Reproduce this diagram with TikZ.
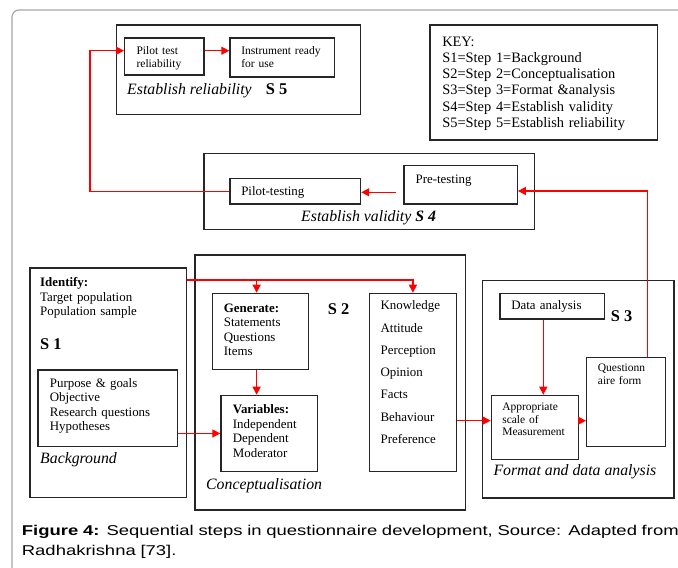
\documentclass[tikz,border=0pt]{standalone}
\usepackage{fontspec}
\setmainfont{Liberation Serif}
\newfontfamily\capfont[FakeStretch=1.3]{Liberation Sans}
\usetikzlibrary{arrows.meta,positioning}

\begin{document}
\begin{tikzpicture}[x=1pt, y=-1pt,
    stepbox/.style={rectangle, draw=black!85, line width=1.2pt, anchor=north west, inner sep=0pt},
    cell/.style={rectangle, draw=black!85, line width=1.2pt, anchor=north west, inner ysep=0pt, align=left},
    note/.style={anchor=base west, inner sep=0pt, align=left},
    smallfont/.style={font=\fontsize{11.5}{12.6}\selectfont},
    midfont/.style={font=\fontsize{12.9}{14.5}\selectfont},
    keyfont/.style={font=\fontsize{14.4}{16.2}\selectfont},
    stepname/.style={note, font=\fontsize{15.8}{18}\selectfont\itshape},
    stepno/.style={note, font=\fontsize{16.4}{18}\selectfont\bfseries},
    wire/.style={draw=red, line width=1.35pt},
    flow/.style={wire, -{Triangle[length=8pt, width=8pt]}}]
    \useasboundingbox (0,0) rectangle (678,568);
    % page frame
    \draw[black!35, line width=1.2pt, rounded corners=7pt] (12,568) -- (12,10) -- (678,10);

    % S5: establish reliability
    \node[stepbox, minimum width=244.3pt, minimum height=89.7pt] (s5) at (115.7,24.3) {};
    \node[cell, smallfont, text width=55.3pt, inner xsep=12pt, text height=16.7pt, text depth=20.3pt] (pilotrel) at (124,37.3) {Pilot test\\reliability};
    \node[cell, smallfont, text width=81.9pt, inner xsep=11.4pt, text height=17pt, text depth=22pt] (ready) at (229.3,37.3) {Instrument ready\\for use};
    \node[stepname] (s5name) at (127,94.3) {Establish reliability};
    \node[stepno] (s5no) at (265.7,94.3) {S 5};

    % key
    \node[cell, keyfont, text width=202.6pt, inner xsep=12.4pt, text height=21.4pt, text depth=93.6pt] (key) at (429.3,24.3) {KEY:\\S1=Step 1=Background\\S2=Step 2=Conceptualisation\\S3=Step 3=Format \&analysis\\S4=Step 4=Establish validity\\S5=Step 5=Establish reliability};

    % S4: establish validity
    \node[stepbox, minimum width=330.7pt, minimum height=76.3pt] (s4) at (203.3,152.7) {};
    \node[cell, midfont, text width=107.9pt, inner xsep=11.4pt, text height=16.5pt, text depth=8.8pt] (pilottest) at (229.3,178) {Pilot-testing};
    \node[cell, midfont, text width=90pt, inner xsep=11.7pt, text height=18.3pt, text depth=20pt] (pretest) at (403.3,165) {Pre-testing};
    \node[stepname] (s4name) at (301,221) {Establish validity \textbf{S 4}};

    % S1: background
    \node[stepbox, minimum width=156.4pt, minimum height=229.4pt] (s1) at (29.3,267.3) {};
    \node[note, midfont, text width=140pt] (identify) at (40,286.7) {\textbf{Identify:}\\Target population\\Population sample};
    \node[stepno] (s1no) at (40,349) {S 1};
    \node[cell, midfont, text width=115.7pt, inner xsep=12pt, text height=17.4pt, text depth=59pt] (bg) at (37.3,369.3) {Purpose \& goals\\Objective\\Research questions\\Hypotheses};
    \node[stepname] (s1name) at (40,463.3) {Background};

    % S2: conceptualisation
    \node[stepbox, minimum width=270.7pt, minimum height=255pt] (s2) at (194.3,254.3) {};
    \node[cell, midfont, text width=72.8pt, inner xsep=11.6pt, text height=19pt, text depth=57.3pt] (generate) at (211.7,292.7) {\textbf{Generate:}\\Statements\\Questions\\Items};
    \node[cell, midfont, text width=72.4pt, inner xsep=12pt, text height=18.6pt, text depth=57.7pt] (variables) at (220.3,394.7) {\textbf{Variables:}\\Independent\\Dependent\\Moderator};
    \node[cell, font=\fontsize{12.9}{22.23}\selectfont, text width=64.7pt, inner xsep=11.3pt, text height=16.6pt, text depth=161.7pt] (attr) at (368.7,292.7) {Knowledge\\Attitude\\Perception\\Opinion\\Facts\\Behaviour\\Preference};
    \node[stepno] (s2no) at (327.7,314.3) {S 2};
    \node[stepname] (s2name) at (206,489.3) {Conceptualisation};

    % S3: format and data analysis
    \node[stepbox, minimum width=191.3pt, minimum height=217.3pt] (s3) at (482,280) {};
    \node[cell, midfont, text width=81.9pt, inner xsep=11.4pt, text height=16.6pt, text depth=9pt] (data) at (499.3,292.7) {Data analysis};
    \node[stepno] (s3no) at (610.7,321) {S 3};
    \node[cell, smallfont, text width=56.4pt, inner xsep=11.3pt, text height=14.3pt, text depth=74.7pt] (quest) at (586,356.7) {Questionn\\aire form};
    \node[cell, smallfont, text width=65.3pt, inner xsep=11pt, text height=15.3pt, text depth=48.7pt] (scale) at (490.7,394.7) {Appropriate\\scale of\\Measurement};
    \node[stepname] (s3name) at (493.3,475) {Format and data analysis};

    % connectors
    \draw[flow] (s1.east |- 0,280) -| (attr.north);
    \draw[flow] ([xshift=-3.7pt]generate.north |- 0,280) -- ([xshift=-3.7pt]generate.north);
    \draw[flow] ([xshift=-3.7pt]generate.south) -- ([xshift=-3.7pt]generate.south |- variables.north);
    \draw[flow] (bg.east |- variables.west) -- (variables.west);
    \draw[flow] (attr.east |- 0,420.6) -- (scale.west |- 0,420.6);
    \draw[flow] (data.south -| 543.3,0) -- (scale.north -| 543.3,0);
    \draw[flow] (scale.east |- 0,420.7) -- (quest.west |- 0,420.7);
    \draw[flow] (quest.north -| 647.3,0) |- (pretest.east |- 0,191);
    \draw[flow] ([xshift=-7pt]pretest.west |- 0,192.3) -- (pilottest.east |- 0,192.3);
    \draw[flow] (pilottest.west) -- (pilottest.west -| 90,0) |- (pilotrel.west |- 0,50.7);
    \draw[flow] (pilotrel.east |- 0,50.7) -- (ready.west |- 0,50.7);

    % caption
    \node[note, font=\capfont\fontsize{14.2}{20}\selectfont, text width=660pt] (caption) at (21.7,535) {\textbf{Figure 4:} Sequential steps in questionnaire development, Source: Adapted from\\Radhakrishna [73].};
\end{tikzpicture}
\end{document}
